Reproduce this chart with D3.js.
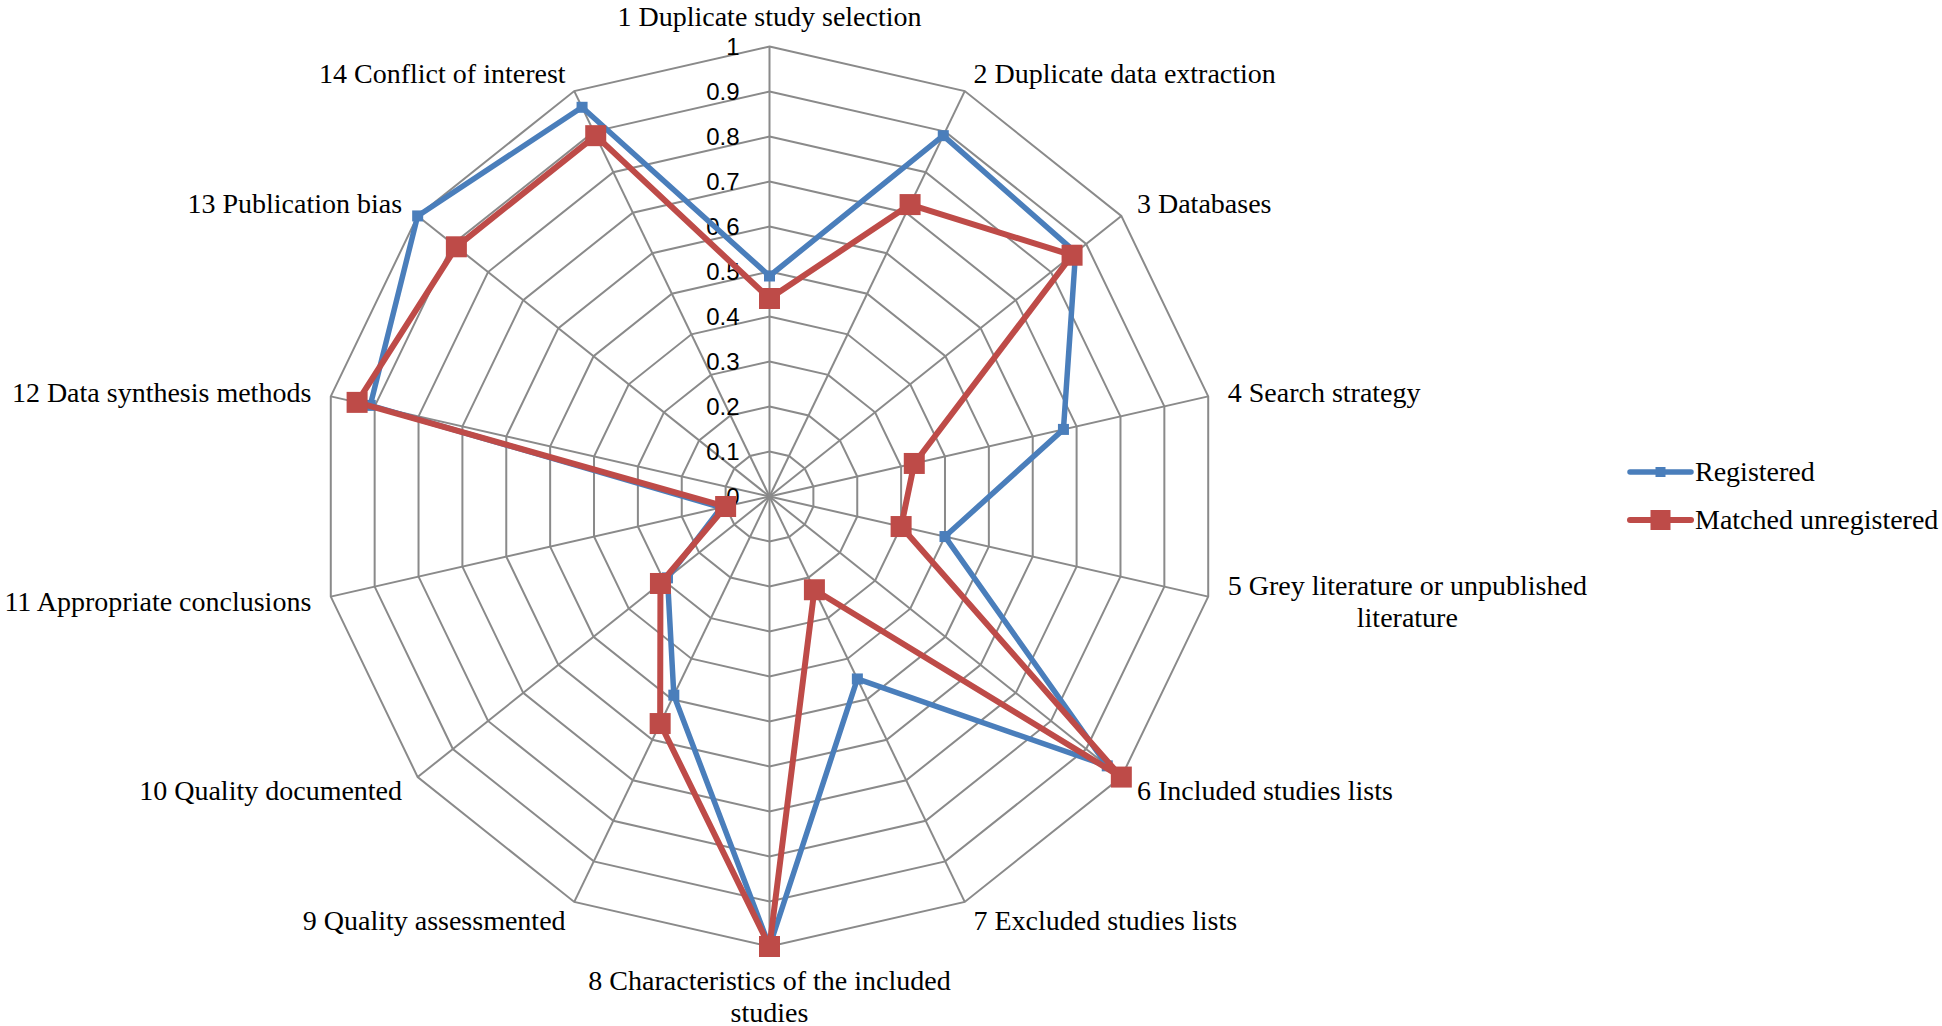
<!DOCTYPE html>
<html>
<head>
<meta charset="utf-8">
<script src="https://cdn.jsdelivr.net/npm/d3@7"></script>
<style>
  html, body { margin: 0; padding: 0; background: #ffffff; }
  svg { display: block; }
</style>
</head>
<body>
<svg id="chart" width="1942" height="1026"></svg>
<script>
const categories = [
  "1 Duplicate study selection",
  "2 Duplicate data extraction",
  "3 Databases",
  "4 Search strategy",
  "5 Grey literature or unpublished literature",
  "6 Included studies lists",
  "7 Excluded studies lists",
  "8 Characteristics of the included studies",
  "9 Quality assessmented",
  "10 Quality documented",
  "11 Appropriate conclusions",
  "12 Data synthesis methods",
  "13 Publication bias",
  "14 Conflict of interest"
];
const registered = [0.49, 0.89, 0.87, 0.67, 0.40, 0.96, 0.45, 1.0, 0.49, 0.29, 0.11, 0.91, 1.0, 0.96];
const unregistered = [0.44, 0.72, 0.86, 0.33, 0.30, 1.0, 0.23, 1.0, 0.56, 0.31, 0.10, 0.94, 0.89, 0.89];
const tickValues = [0, 0.1, 0.2, 0.3, 0.4, 0.5, 0.6, 0.7, 0.8, 0.9, 1];
const tickLabels = ["0", "0.1", "0.2", "0.3", "0.4", "0.5", "0.6", "0.7", "0.8", "0.9", "1"];
const seriesNames = ["Registered", "Matched unregistered"];

const cx = 769.5, cy = 496.5, R = 450;
const svg = d3.select("#chart");
const g = svg.append("g").attr("transform", `translate(${cx},${cy})`);

const r = d3.scaleLinear().domain([0, 1]).range([0, R]);
const angle = d3.scaleLinear().domain([0, categories.length]).range([0, 2 * Math.PI]);
const px = (i, v) => r(v) * Math.sin(angle(i));
const py = (i, v) => -r(v) * Math.cos(angle(i));

const gridColor = "#8a8a8a";
const idx = d3.range(categories.length);

// grid polygons
tickValues.filter(t => t > 0).forEach(t => {
  g.append("path")
    .attr("d", d3.line()(idx.map(i => [px(i, t), py(i, t)])) + "Z")
    .attr("fill", "none").attr("stroke", gridColor).attr("stroke-width", 2);
});
// spokes
idx.forEach(i => {
  g.append("line").attr("x1", 0).attr("y1", 0)
    .attr("x2", px(i, 1)).attr("y2", py(i, 1))
    .attr("stroke", gridColor).attr("stroke-width", 2);
});

// tick labels
g.selectAll("text.tick").data(tickValues).enter().append("text")
  .attr("class", "tick")
  .attr("x", -30).attr("y", d => -r(d))
  .attr("dy", "0.36em")
  .attr("text-anchor", "end")
  .style("font-family", "'Liberation Sans', Arial, sans-serif")
  .style("font-size", "24px")
  .attr("fill", "#000")
  .text((d, i) => tickLabels[i]);

// series
const series = [
  { name: seriesNames[0], values: registered, color: "#4a7ebb", width: 5.5, marker: 11 },
  { name: seriesNames[1], values: unregistered, color: "#be4b48", width: 6, marker: 21 }
];
const radial = d3.lineRadial()
  .angle((d, i) => angle(i))
  .radius(d => r(d))
  .curve(d3.curveLinearClosed);

series.forEach(s => {
  g.append("path").attr("d", radial(s.values))
    .attr("fill", "none").attr("stroke", s.color)
    .attr("stroke-width", s.width).attr("stroke-linejoin", "round");
  g.selectAll(null).data(s.values).enter().append("rect")
    .attr("x", (d, i) => px(i, d) - s.marker / 2)
    .attr("y", (d, i) => py(i, d) - s.marker / 2)
    .attr("width", s.marker).attr("height", s.marker)
    .attr("fill", s.color);
});

// category labels
const labelFont = "'Liberation Serif', 'Times New Roman', serif";
const maxW = 380, lineH = 32;
categories.forEach((c, i) => {
  const a = angle(i);
  const x = (R + 20) * Math.sin(a), y = -(R + 20) * Math.cos(a);
  const t = g.append("text")
    .style("font-family", labelFont).style("font-size", "28px").attr("fill", "#000");
  const words = c.split(" ");
  const lines = [];
  let cur = "";
  const probe = g.append("text").style("font-family", labelFont).style("font-size", "28px");
  words.forEach(w => {
    const test = cur ? cur + " " + w : w;
    probe.text(test);
    if (probe.node().getComputedTextLength() > maxW && cur) { lines.push(cur); cur = w; }
    else cur = test;
  });
  lines.push(cur);
  const fullW = Math.min(maxW, d3.max(lines, l => { probe.text(l); return probe.node().getComputedTextLength(); }));
  probe.remove();

  const sinA = Math.sin(a);
  let baseY, blockCenterX;
  if (Math.abs(sinA) < 0.01) {
    blockCenterX = x;
    if (y < 0) baseY = y - 1 - (lines.length - 1) * lineH;
    else baseY = y + 23;
  } else {
    blockCenterX = sinA > 0 ? x + fullW / 2 : x - fullW / 2;
    baseY = y + 10 - (lines.length - 1) * lineH / 2;
  }
  t.attr("text-anchor", "middle");
  lines.forEach((l, k) => {
    t.append("tspan").attr("x", blockCenterX).attr("y", baseY + k * lineH).text(l);
  });
});

// legend
const lg = svg.append("g");
series.forEach((s, k) => {
  const ly = 472 + k * 48;
  lg.append("line").attr("x1", 1630).attr("x2", 1691).attr("y1", ly).attr("y2", ly)
    .attr("stroke", s.color).attr("stroke-width", s.width).attr("stroke-linecap", "round");
  const ms = k === 0 ? 10 : 20;
  lg.append("rect").attr("x", 1660.5 - ms / 2).attr("y", ly - ms / 2)
    .attr("width", ms).attr("height", ms).attr("fill", s.color);
  lg.append("text").attr("x", 1695).attr("y", ly + 9)
    .style("font-family", labelFont).style("font-size", "28px").attr("fill", "#000")
    .text(s.name);
});
</script>
</body>
</html>
